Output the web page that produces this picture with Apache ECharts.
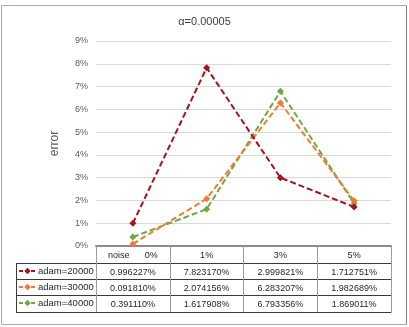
<!DOCTYPE html>
<html>
<head>
<meta charset="utf-8">
<script src="https://cdn.jsdelivr.net/npm/echarts@6/dist/echarts.min.js"></script>
<style>
  html, body { margin: 0; padding: 0; background: #fff; }
  #chart { width: 409px; height: 327px; }
</style>
</head>
<body>
<div id="chart"></div>
<script>
// noise levels along the x axis
const noiseLevels = ['0%', '1%', '3%', '5%'];
const seriesNames = ['adam=20000', 'adam=30000', 'adam=40000'];
// error values in percent
const adam20000 = [0.996227, 7.823170, 2.999821, 1.712751];
const adam30000 = [0.091810, 2.074156, 6.283207, 1.982689];
const adam40000 = [0.391110, 1.617908, 6.793356, 1.869011];
const yTicks = [0, 1, 2, 3, 4, 5, 6, 7, 8, 9];

const allValues = [adam20000, adam30000, adam40000];
const colors = ['#a3141c', '#f07b35', '#6aa93f'];
const font = '"Liberation Sans Narrow", "Liberation Sans", sans-serif';

const chart = echarts.init(document.getElementById('chart'));

// table rows are drawn as extra category axes under the plot
const rowTop = [17, 33, 49];
const tableBottom = 66;
const rowAxes = allValues.map((vals, i) => ({
  type: 'category',
  gridIndex: 0,
  position: 'bottom',
  offset: rowTop[i],
  data: vals.map((v) => v.toFixed(6) + '%'),
  axisLine: { show: true, lineStyle: { color: '#3a3a3a', width: 1 } },
  axisTick: { show: false },
  axisLabel: { interval: 0, margin: 5, color: '#262626', fontSize: 9, fontFamily: font },
  splitLine: { show: false }
}));
rowAxes.push({
  type: 'category',
  gridIndex: 0,
  position: 'bottom',
  offset: tableBottom,
  data: noiseLevels,
  axisLine: { show: true, lineStyle: { color: '#3a3a3a', width: 1 } },
  axisTick: { show: false },
  axisLabel: { show: false }
});

const gridBottomY = 246;
const leftCol = 16;
const plotLeft = 96;
const line = (x1, y1, x2, y2, c) => ({
  type: 'line',
  shape: { x1, y1, x2, y2 },
  style: { stroke: c, lineWidth: 1 },
  silent: true
});

const option = {
  animation: false,
  backgroundColor: '#fff',
  color: colors,
  title: {
    text: 'α=0.00005',
    left: 'center',
    top: 16,
    padding: 0,
    textStyle: { color: '#404040', fontSize: 11, fontWeight: 'normal', fontFamily: font }
  },
  legend: {
    orient: 'vertical',
    left: leftCol + 2,
    top: gridBottomY + rowTop[0] + 2,
    padding: 0,
    itemWidth: 17,
    itemHeight: 8,
    itemGap: 4,
    data: seriesNames,
    lineStyle: { type: [4, 2], width: 2 },
    textStyle: { color: '#262626', fontSize: 9.5, lineHeight: 12, fontFamily: font, padding: [0, 0, 0, -3] }
  },
  grid: { left: plotLeft, right: 18, top: 41, bottom: 327 - gridBottomY },
  xAxis: [
    {
      type: 'category',
      data: noiseLevels,
      axisLine: { lineStyle: { color: '#8c8c8c', width: 2 } },
      axisTick: { show: true, length: tableBottom, lineStyle: { color: '#9a9a9a', width: 1 } },
      axisLabel: {
        interval: 0,
        margin: 5,
        color: '#262626',
        fontSize: 9,
        fontFamily: font,
        formatter: (v, i) => (i === 0 ? 'noise      ' + v : v)
      }
    }
  ].concat(rowAxes),
  yAxis: {
    type: 'value',
    min: yTicks[0],
    max: yTicks[yTicks.length - 1],
    interval: 1,
    name: 'error',
    nameLocation: 'middle',
    nameGap: 35,
    nameTextStyle: { color: '#595959', fontSize: 12, fontFamily: font },
    axisLine: { show: false },
    axisTick: { show: false },
    axisLabel: { color: '#595959', fontSize: 9, margin: 8, fontFamily: font, formatter: '{value}%' },
    splitLine: { lineStyle: { color: '#d9d9d9', width: 1 } }
  },
  series: seriesNames.map((name, i) => ({
    name,
    type: 'line',
    data: allValues[i],
    symbol: 'diamond',
    symbolSize: 7,
    lineStyle: { width: 2, type: [6, 3] },
    itemStyle: { color: colors[i] },
    z: 3 - i
  })),
  graphic: [
    // outer chart frame
    line(1.5, 5.5, 406.5, 5.5, '#a4a9b8'),
    line(1.5, 5.5, 1.5, 324.5, '#a4a9b8'),
    line(406.5, 5.5, 406.5, 324.5, '#7f7f7f'),
    line(1.5, 324.5, 406.5, 324.5, '#a4a9b8'),
    // legend column of the data table
    line(leftCol + 0.5, gridBottomY + rowTop[0] + 0.5, leftCol + 0.5, gridBottomY + tableBottom + 0.5, '#3a3a3a'),
    line(leftCol, gridBottomY + rowTop[0] + 0.5, plotLeft, gridBottomY + rowTop[0] + 0.5, '#3a3a3a'),
    line(leftCol, gridBottomY + rowTop[1] + 0.5, plotLeft, gridBottomY + rowTop[1] + 0.5, '#3a3a3a'),
    line(leftCol, gridBottomY + rowTop[2] + 0.5, plotLeft, gridBottomY + rowTop[2] + 0.5, '#3a3a3a'),
    line(leftCol, gridBottomY + tableBottom + 0.5, plotLeft, gridBottomY + tableBottom + 0.5, '#3a3a3a'),
    line(plotLeft + 0.5, gridBottomY, plotLeft + 0.5, gridBottomY + tableBottom, '#3a3a3a')
  ]
};

chart.setOption(option);
</script>
</body>
</html>
